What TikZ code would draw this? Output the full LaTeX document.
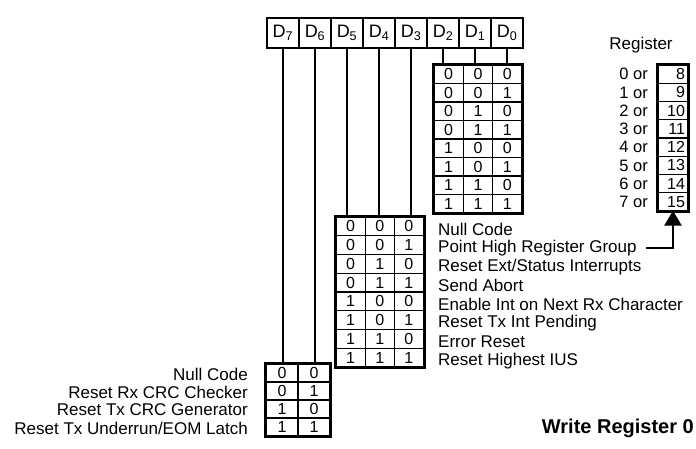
\documentclass[tikz,border=0pt]{standalone}
\usepackage{fontspec}
\setmainfont{Liberation Sans}
\usetikzlibrary{arrows.meta}
\begin{document}
\begin{tikzpicture}[x=1pt,y=-1pt,
  cellbox/.style n args={2}{draw, line width=1.3pt, minimum width=#1, minimum height=#2, inner sep=0pt, text depth=0pt, font=\fontsize{16}{16}\selectfont},
  hdr/.style={draw, line width=2pt, minimum width=32pt, minimum height=30pt, inner sep=0pt, font=\fontsize{18}{18}\selectfont},
  outer/.style={line width=2.8pt},
  conn/.style={line width=2.6pt},
  lbl/.style={inner sep=0pt, font=\fontsize{17}{17}\selectfont},
  orlbl/.style={inner sep=0pt, font=\fontsize{16.5}{16.5}\selectfont},
  regbox/.style={draw, line width=1.3pt, minimum height=18.5pt, text width=24pt, align=right, inner xsep=3pt, inner ysep=0pt, font=\fontsize{16}{16}\selectfont},
]
\useasboundingbox (0,0) rectangle (696,448);

% header
\foreach \b [count=\i from 0] in {7,6,5,4,3,2,1,0}
  \node[hdr] (d\b) at ({283+32*\i},33) {D\textsubscript{\b}};

% top-right table (D2 D1 D0)
\foreach \r in {0,...,7}
  \foreach \c in {0,1,2} {
    \pgfmathtruncatemacro\v{mod(floor(\r/2^(2-\c)),2)}
    \node[cellbox={29.33pt}{18.5pt}] (t-\r-\c) at ({434+14.67+29.33*\c},{65+9.25+18.5*\r}) {\v};
  }
\draw[outer] (t-0-0.north west) rectangle (t-7-2.south east);

% middle table (D5 D4 D3)
\foreach \r in {0,...,7}
  \foreach \c in {0,1,2} {
    \pgfmathtruncatemacro\v{mod(floor(\r/2^(2-\c)),2)}
    \node[cellbox={29.17pt}{18.75pt}] (m-\r-\c) at ({336+14.58+29.17*\c},{217+9.375+18.75*\r}) {\v};
  }
\draw[outer] (m-0-0.north west) rectangle (m-7-2.south east);

% bottom table (D7 D6)
\foreach \r in {0,...,3}
  \foreach \c in {0,1} {
    \pgfmathtruncatemacro\v{mod(floor(\r/2^(1-\c)),2)}
    \node[cellbox={32pt}{18pt}] (b-\r-\c) at ({266+16+32*\c},{364+9+18*\r}) {\v};
  }
\draw[outer] (b-0-0.north west) rectangle (b-3-1.south east);

% connectors from header
\draw[conn] (d7.south) -- (d7.south |- b-0-0.north);
\draw[conn] (d6.south) -- (d6.south |- b-0-1.north);
\draw[conn] (d5.south) -- (d5.south |- m-0-0.north);
\draw[conn] (d4.south) -- (d4.south |- m-0-1.north);
\draw[conn] (d3.south) -- (d3.south |- m-0-2.north);
\draw[conn] (d2.south) -- (d2.south |- t-0-0.north);
\draw[conn] (d1.south) -- (d1.south |- t-0-1.north);
\draw[conn] (d0.south) -- (d0.south |- t-0-2.north);

% middle labels
\foreach \t [count=\k from 0] in {Null Code, Point High Register Group, Reset Ext/Status Interrupts, Send Abort, Enable Int on Next Rx Character, Reset Tx Int Pending, Error Reset, Reset Highest IUS}
  \node[lbl, anchor=west] (ml-\k) at (438,{217+9.375+18.75*\k+3}) {\t};

% bottom labels
\foreach \t [count=\k from 0] in {Null Code, Reset Rx CRC Checker, Reset Tx CRC Generator, Reset Tx Underrun/EOM Latch}
  \node[lbl, anchor=east] (bl-\k) at (248,{364+9+18*\k+1}) {\t};

% register column
\node[lbl] (regtitle) at (641,45) {Register};
\foreach \n [count=\k from 0] in {8,...,15} {
  \node[orlbl, anchor=east] (or-\k) at (648,{65+9.25+18.25*\k}) {\k\ or};
  \node[regbox, minimum height=18.25pt] (r-\k) at (673,{65+9.125+18.25*\k}) {\n};
}
\draw[outer] (r-0.north west) rectangle (r-7.south east);

% arrow
\coordinate (astart) at ([xshift=9pt]ml-1.east);
\draw[conn, -{Triangle[length=15pt,width=17pt]}] (astart) -| ([yshift=1pt]r-7.south);

% title
\node[inner sep=0pt, anchor=east, font=\bfseries\fontsize{20}{20}\selectfont] (title) at (694,428) {Write Register 0};
\end{tikzpicture}
\end{document}
